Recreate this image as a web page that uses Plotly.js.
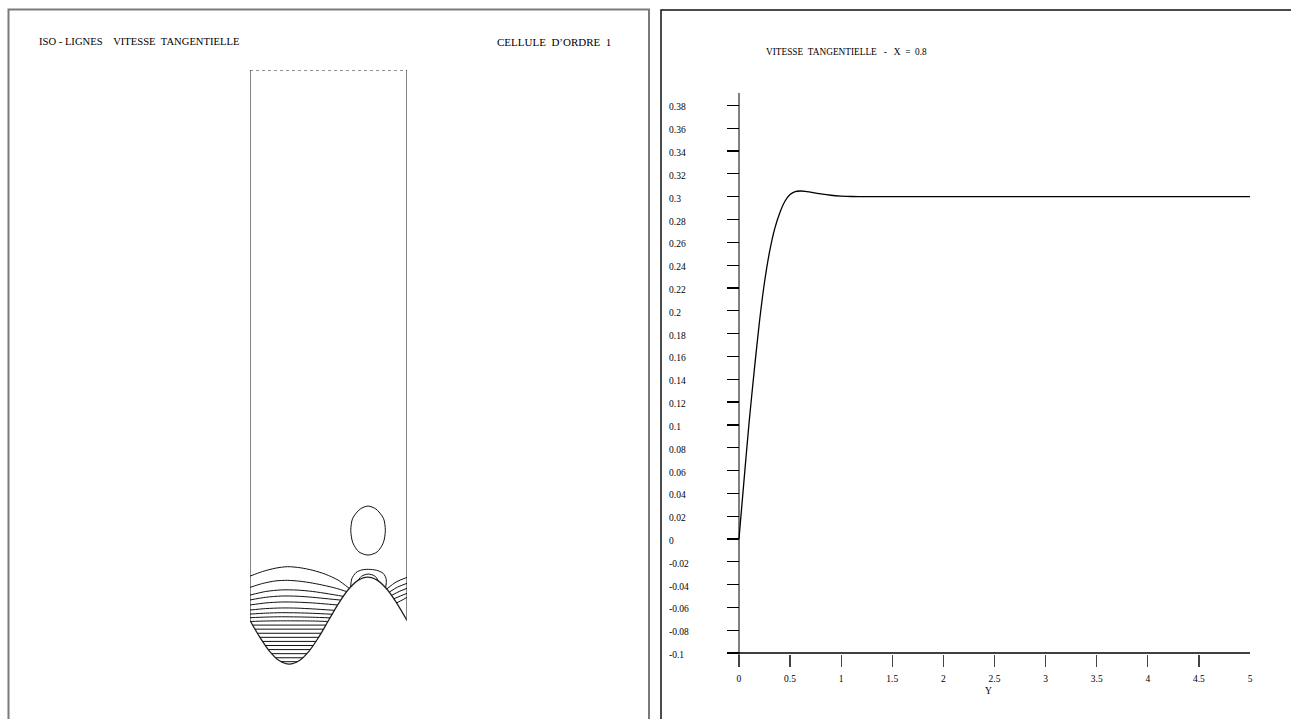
<!DOCTYPE html>
<html><head><meta charset="utf-8">
<script src="https://cdn.plot.ly/plotly-3.0.1.min.js"></script>
<style>html,body{margin:0;padding:0;background:#fff;} #chart{width:1291px;height:719px;}</style>
</head><body><div id="chart"></div>
<script>
// ---------- right panel: velocity profile ----------
const profileY = [0, 0.05, 0.1, 0.15, 0.2, 0.25, 0.3, 0.35, 0.4, 0.45, 0.5, 0.55, 0.6, 0.65, 0.7, 0.8, 0.9, 1.0, 1.1, 1.25, 1.5, 2, 2.5, 3, 3.5, 4, 4.5, 5];
const profileV = [0, 0.052, 0.103, 0.148, 0.19, 0.225, 0.252, 0.272, 0.286, 0.296, 0.302, 0.3045, 0.305, 0.3047, 0.304, 0.3025, 0.3013, 0.3006, 0.3002, 0.3, 0.3, 0.3, 0.3, 0.3, 0.3, 0.3, 0.3, 0.3];
const xTickVals = [0, 0.5, 1, 1.5, 2, 2.5, 3, 3.5, 4, 4.5, 5];
const xTickText = ["0", "0.5", "1", "1.5", "2", "2.5", "3", "3.5", "4", "4.5", "5"];
const yTickVals = [-0.1, -0.08, -0.06, -0.04, -0.02, 0, 0.02, 0.04, 0.06, 0.08, 0.1, 0.12, 0.14, 0.16, 0.18, 0.2, 0.22, 0.24, 0.26, 0.28, 0.3, 0.32, 0.34, 0.36, 0.38];
const yTickText = ["-0.1", "-0.08", "-0.06", "-0.04", "-0.02", "0", "0.02", "0.04", "0.06", "0.08", "0.1", "0.12", "0.14", "0.16", "0.18", "0.2", "0.22", "0.24", "0.26", "0.28", "0.3", "0.32", "0.34", "0.36", "0.38"];
const xAxisBase = -0.1;

// ---------- left panel: iso-lines in the cell ----------
const cellTop = 3.506;
const wallX = [0, 0.0625, 0.125, 0.1875, 0.25, 0.3125, 0.375, 0.4375, 0.5, 0.5625, 0.625, 0.6875, 0.75, 0.8125, 0.875, 0.9375, 1];
const wallY = [0, -0.106, -0.196, -0.256, -0.277, -0.256, -0.196, -0.106, 0, 0.106, 0.196, 0.256, 0.277, 0.256, 0.196, 0.106, 0];

const isoA_x = [0, 0.08, 0.16, 0.24, 0.32, 0.40, 0.48, 0.56, 0.632];
const isoA_y = [0.283, 0.312, 0.333, 0.343, 0.336, 0.320, 0.295, 0.258, 0.205];
const isoB_x = [0, 0.08, 0.16, 0.24, 0.32, 0.40, 0.48, 0.55, 0.616];
const isoB_y = [0.211, 0.236, 0.252, 0.256, 0.250, 0.238, 0.222, 0.205, 0.184];
const isoC_x = [0, 0.1, 0.2, 0.3, 0.4, 0.5, 0.594];
const isoC_y = [0.162, 0.185, 0.195, 0.194, 0.185, 0.170, 0.154];
const isoD_x = [0, 0.1, 0.2, 0.3, 0.4, 0.5, 0.578];
const isoD_y = [0.131, 0.148, 0.156, 0.155, 0.148, 0.138, 0.130];
const isoE_x = [0, 0.1, 0.2, 0.3, 0.4, 0.5, 0.559];
const isoE_y = [0.099, 0.112, 0.118, 0.117, 0.112, 0.104, 0.099];
const isoF_x = [0, 0.1, 0.2, 0.3, 0.4, 0.538];
const isoF_y = [0.067, 0.076, 0.080, 0.079, 0.074, 0.065];
const isoG_x = [0, 0.1, 0.2, 0.3, 0.4, 0.523];
const isoG_y = [0.041, 0.047, 0.050, 0.049, 0.046, 0.040];
const isoH_x = [0, 0.1, 0.2, 0.3, 0.4, 0.51];
const isoH_y = [0.018, 0.022, 0.024, 0.023, 0.021, 0.017];
const isoI_x = [0.004, 0.1, 0.25, 0.4, 0.496];
const isoI_y = [-0.006, -0.003, -0.002, -0.003, -0.006];

const isoRA_x = [0.871, 0.93, 1], isoRA_y = [0.201, 0.245, 0.275];
const isoRB_x = [0.887, 0.94, 1], isoRB_y = [0.181, 0.213, 0.237];
const isoRC_x = [0.902, 0.95, 1], isoRC_y = [0.160, 0.185, 0.205];
const isoRD_x = [0.917, 0.96, 1], isoRD_y = [0.139, 0.157, 0.173];
const isoRE_x = [0.934, 0.97, 1], isoRE_y = [0.112, 0.131, 0.148];

const troughLevels = [-0.029, -0.055, -0.081, -0.107, -0.133, -0.159, -0.185, -0.211, -0.237, -0.262];
const troughLeftX = [0.0167, 0.0318, 0.0472, 0.0631, 0.0797, 0.0973, 0.1163, 0.1378, 0.1633, 0.1975];
const troughRightX = [0.4833, 0.4682, 0.4528, 0.4369, 0.4203, 0.4027, 0.3837, 0.3622, 0.3367, 0.3025];

const eggX = [0.862, 0.85, 0.802, 0.752, 0.702, 0.654, 0.642, 0.655, 0.694, 0.752, 0.81, 0.849, 0.862];
const eggY = [0.573, 0.651, 0.71, 0.729, 0.71, 0.651, 0.573, 0.495, 0.437, 0.417, 0.437, 0.495, 0.573];
const capOuterX = [0.641, 0.648, 0.675, 0.711, 0.754, 0.807, 0.849, 0.868, 0.864];
const capOuterY = [0.215, 0.265, 0.305, 0.322, 0.326, 0.320, 0.300, 0.262, 0.209];
const capInnerX = [0.69, 0.71, 0.754, 0.797, 0.817];
const capInnerY = [0.257, 0.282, 0.296, 0.282, 0.253];

const FONT = "Liberation Serif, Times New Roman, serif";
const W = 1291, H = 719;
const traces = [];

traces.push({x: profileY, y: profileV, xaxis: 'x', yaxis: 'y', type: 'scatter', mode: 'lines',
  line: {color: '#000', width: 1.3, shape: 'spline', smoothing: 0.6}, hoverinfo: 'skip'});

function iso(xs, ys, extra) {
  traces.push(Object.assign({x: xs, y: ys, xaxis: 'x2', yaxis: 'y2', type: 'scatter', mode: 'lines',
    line: {color: '#111', width: 1, shape: 'spline', smoothing: 0.8}, hoverinfo: 'skip'}, extra || {}));
}
// walls
iso(wallX, wallY, {line: {color: '#222', width: 1.3, shape: 'spline', smoothing: 1}});
iso([0, 0, null, 1, 1], [0, cellTop, null, 0, cellTop], {line: {color: '#444', width: 1.3}});
iso([0, 1], [cellTop, cellTop], {line: {color: '#222', width: 1.2, dash: 'dot'}});
// iso lines
[[isoA_x, isoA_y], [isoB_x, isoB_y], [isoC_x, isoC_y], [isoD_x, isoD_y], [isoE_x, isoE_y],
 [isoF_x, isoF_y], [isoG_x, isoG_y], [isoH_x, isoH_y], [isoI_x, isoI_y],
 [isoRA_x, isoRA_y], [isoRB_x, isoRB_y], [isoRC_x, isoRC_y], [isoRD_x, isoRD_y], [isoRE_x, isoRE_y],
 [eggX, eggY], [capOuterX, capOuterY], [capInnerX, capInnerY]].forEach(p => iso(p[0], p[1]));
troughLevels.forEach((c, i) => iso([troughLeftX[i], troughRightX[i]], [c, c], {line: {color: '#111', width: 1}}));

const annotations = [
  {xref: 'paper', yref: 'paper', x: 37 / W, y: 1 - 42 / H, xanchor: 'left', yanchor: 'middle', showarrow: false,
   text: 'ISO\u00A0-\u00A0LIGNES\u00A0\u00A0\u00A0\u00A0VITESSE\u00A0\u00A0TANGENTIELLE', font: {family: FONT, size: 10.6, color: '#000'}},
  {xref: 'paper', yref: 'paper', x: 613 / W, y: 1 - 42 / H, xanchor: 'right', yanchor: 'middle', showarrow: false,
   text: 'CELLULE\u00A0\u00A0D\u2019ORDRE\u00A0\u00A01', font: {family: FONT, size: 11, color: '#000'}},
  {xref: 'paper', yref: 'paper', x: 764 / W, y: 1 - 52 / H, xanchor: 'left', yanchor: 'middle', showarrow: false,
   text: 'VITESSE\u00A0\u00A0TANGENTIELLE\u00A0\u00A0\u00A0-\u00A0\u00A0\u00A0X\u00A0\u00A0=\u00A0\u00A00.8', font: {family: FONT, size: 9.3, color: '#000'}}
];
yTickVals.forEach((v, i) => annotations.push({xref: 'paper', yref: 'y', x: 667 / W, y: v, xanchor: 'left', yanchor: 'middle',
  yshift: -2, showarrow: false, text: yTickText[i], font: {family: FONT, size: 9.5, color: '#000'}}));

const layout = {
  width: W, height: H, margin: {l: 0, r: 0, t: 0, b: 0}, showlegend: false,
  paper_bgcolor: '#fff', plot_bgcolor: 'rgba(0,0,0,0)',
  xaxis: {domain: [727 / W, 1250 / W], range: [-0.117, 5], tickmode: 'array', tickvals: xTickVals, ticktext: xTickText,
    ticks: 'inside', ticklen: 12, tickcolor: '#444', tickwidth: 1.2, showgrid: false, showline: false,
    zeroline: true, zerolinecolor: '#808080', zerolinewidth: 2, tickfont: {family: FONT, size: 9.5, color: '#000'},
    ticklabelstandoff: 4,
    title: {text: 'Y', font: {family: FONT, size: 9.5, color: '#000'}, standoff: 4}, fixedrange: true},
  yaxis: {domain: [1 - 667 / H, 1 - 93 / H], range: [-0.1122, 0.3909], tickmode: 'array', tickvals: yTickVals,
    ticks: 'inside', ticklen: 12, tickcolor: '#000', tickwidth: 1.2, showticklabels: false, showgrid: false,
    showline: false, zeroline: false, fixedrange: true},
  xaxis2: {domain: [250 / W, 407 / W], range: [0, 1], visible: false, fixedrange: true},
  yaxis2: {domain: [1 - 670 / H, 1 - 70 / H], range: [-0.315, 3.506], visible: false, fixedrange: true},
  annotations: annotations,
  shapes: [
    {type: 'line', xref: 'x domain', yref: 'y', x0: 0, x1: 1, y0: xAxisBase, y1: xAxisBase, line: {color: '#000', width: 1.5}},
    {type: 'rect', xref: 'paper', yref: 'paper', x0: 8.5 / W, x1: 649 / W, y0: -0.02, y1: 1 - 9.5 / H, line: {color: '#7a7a7a', width: 2}},
    {type: 'rect', xref: 'paper', yref: 'paper', x0: 661 / W, x1: 1.02, y0: -0.02, y1: 1 - 10 / H, line: {color: '#111', width: 1.5}}
  ]
};
Plotly.newPlot('chart', traces, layout, {displayModeBar: false, staticPlot: true});
</script></body></html>
